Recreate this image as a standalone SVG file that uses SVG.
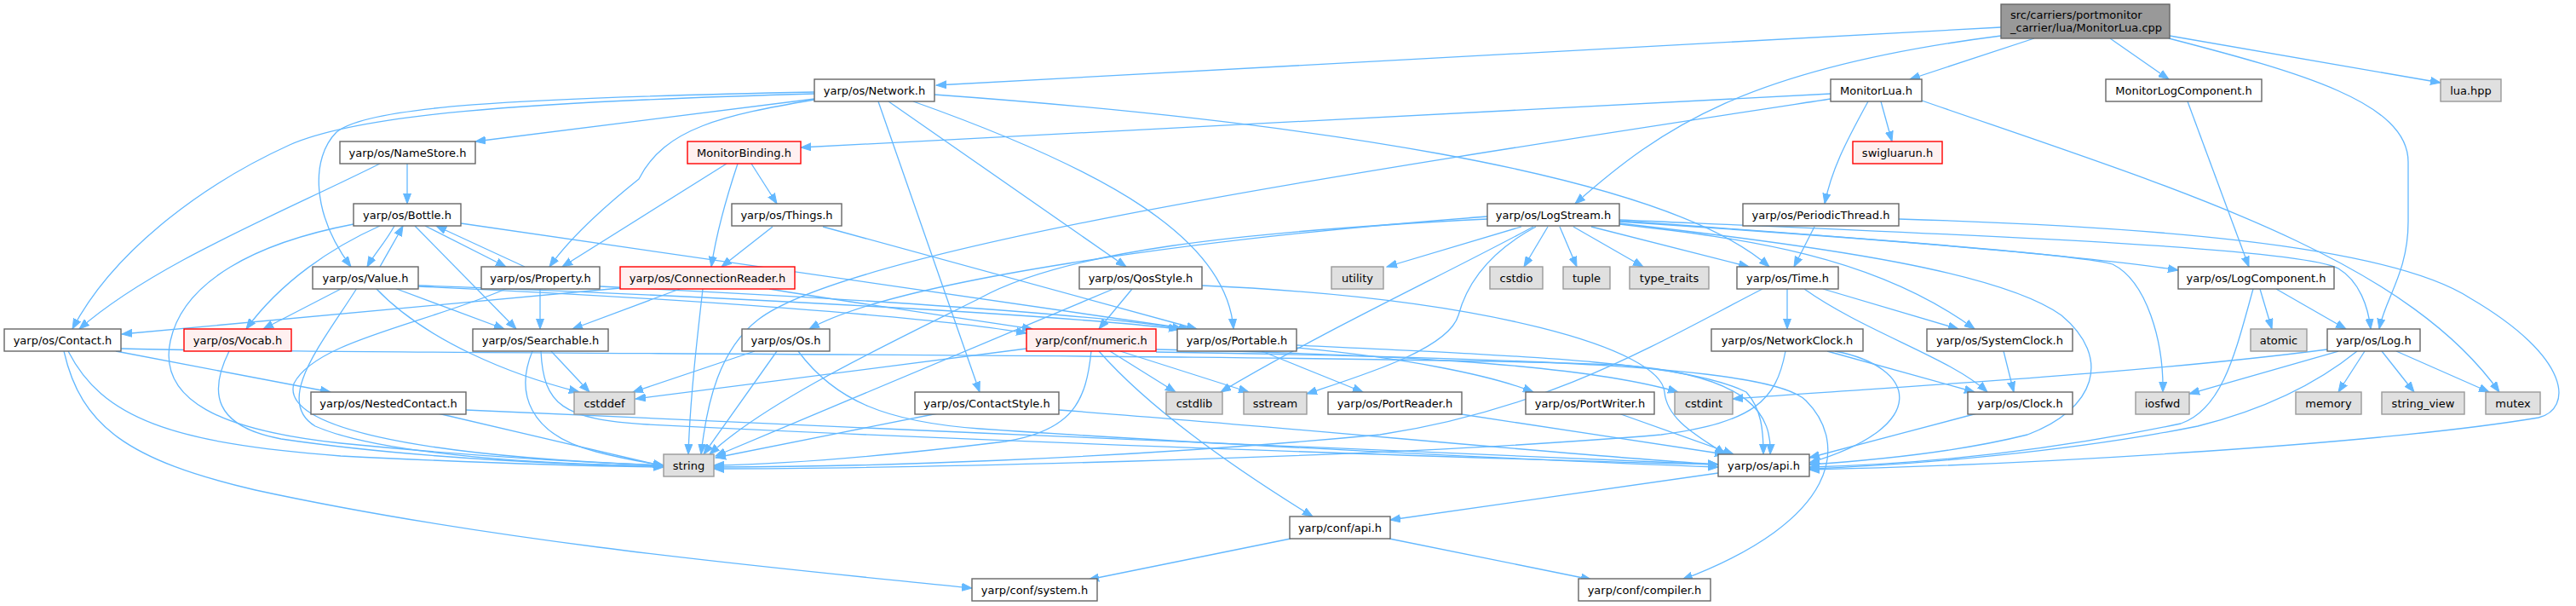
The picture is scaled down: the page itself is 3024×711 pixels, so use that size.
<svg xmlns="http://www.w3.org/2000/svg" width="3024" height="711" viewBox="0 0 3024 711">
<style>
.e{fill:none;stroke:#63b8ff;stroke-width:1.3;marker-end:url(#a)}
.bw rect{fill:#ffffff;stroke:#666666;stroke-width:1.4}
.bg rect{fill:#e0e0e0;stroke:#999999;stroke-width:1.4}
.br rect{fill:#fff0f0;stroke:#ff0000;stroke-width:1.4}
.bk rect{fill:#999999;stroke:#666666;stroke-width:1.4}
text{font-family:"DejaVu Sans","Liberation Sans",sans-serif;font-size:13px;fill:#000000;text-anchor:middle}
.l{text-anchor:start}
</style>
<defs>
<marker id="a" markerUnits="userSpaceOnUse" markerWidth="13" markerHeight="10" refX="12" refY="5" orient="auto">
<path d="M0,0.5 L12,5 L0,9.5 z" fill="#63b8ff" stroke="#63b8ff" stroke-width="1"/>
</marker>
</defs>
<rect x="0" y="0" width="3024" height="711" fill="#ffffff"/>
<g id="edges">
<path class="e" d="M2349,32 L1099,100"/>
<path class="e" d="M2349,42 C2050,80 1950,150 1849,239"/>
<path class="e" d="M2388,45 L2242,93"/>
<path class="e" d="M2477,45 L2546,93"/>
<path class="e" d="M2547,42 L2865,97"/>
<path class="e" d="M2546,45 C2700,85 2827,120 2827,190 L2827,260 C2827,320 2800,350 2793,386"/>
<path class="e" d="M2149,110 L940,173"/>
<path class="e" d="M2149,116 C1600,200 1000,290 890,375 C845,410 830,470 823,533"/>
<path class="e" d="M2208,119 L2221,166"/>
<path class="e" d="M2193,119 C2165,170 2150,200 2142,239"/>
<path class="e" d="M2256,118 C2550,220 2820,300 2934,460"/>
<path class="e" d="M956,116 L558,166"/>
<path class="e" d="M956,108 C600,115 430,125 395,155 C365,185 365,250 412,313"/>
<path class="e" d="M956,110 C600,120 420,135 340,170 C230,220 130,300 85,386"/>
<path class="e" d="M956,117 C850,135 780,150 750,210 C700,250 665,285 645,313"/>
<path class="e" d="M1031,119 L1150,460"/>
<path class="e" d="M1043,119 L1322,313"/>
<path class="e" d="M1072,119 C1300,200 1440,280 1448,386"/>
<path class="e" d="M1097,111 C1500,140 1950,200 2077,313"/>
<path class="e" d="M478,192 L478,239"/>
<path class="e" d="M446,192 C330,250 180,310 93,386"/>
<path class="e" d="M463,265 C452,285 440,297 431,313"/>
<path class="e" d="M499,265 L594,313"/>
<path class="e" d="M541,262 L1396,386"/>
<path class="e" d="M415,263 C300,285 215,330 200,400 C185,470 260,505 400,520 C550,535 700,543 779,546"/>
<path class="e" d="M446,265 C390,290 330,330 289,386"/>
<path class="e" d="M487,265 L606,386"/>
<path class="e" d="M446,313 C456,295 465,280 473,265"/>
<path class="e" d="M402,338 L309,386"/>
<path class="e" d="M419,338 C380,400 320,470 370,500 C450,535 650,545 779,547"/>
<path class="e" d="M441,338 C500,400 600,440 680,460"/>
<path class="e" d="M463,338 L592,386"/>
<path class="e" d="M491,335 C700,342 1200,365 1384,386"/>
<path class="e" d="M491,336 C800,350 1100,372 1205,391"/>
<path class="e" d="M616,313 L512,265"/>
<path class="e" d="M634,338 L634,386"/>
<path class="e" d="M596,338 C500,380 370,400 345,450 C330,500 480,535 779,546"/>
<path class="e" d="M704,336 C1000,350 1300,370 1388,386"/>
<path class="e" d="M728,338 L143,392"/>
<path class="e" d="M798,339 L672,386"/>
<path class="e" d="M825,339 C818,400 810,470 808,533"/>
<path class="e" d="M903,339 C1000,355 1120,372 1212,386"/>
<path class="e" d="M907,266 L847,313"/>
<path class="e" d="M966,266 L1405,386"/>
<path class="e" d="M853,192 L660,313"/>
<path class="e" d="M866,192 C850,240 840,280 835,313"/>
<path class="e" d="M882,192 L912,239"/>
<path class="e" d="M1329,339 L1290,386"/>
<path class="e" d="M1307,339 L840,535"/>
<path class="e" d="M1411,335 C1750,350 1950,410 1954,460 C1957,495 2000,515 2025,533"/>
<path class="e" d="M886,412 L743,460"/>
<path class="e" d="M912,412 L826,533"/>
<path class="e" d="M937,412 C980,470 1040,495 1150,503 C1400,520 1800,540 2017,548"/>
<path class="e" d="M1205,409 L746,468"/>
<path class="e" d="M1281,412 C1275,470 1260,505 1180,518 C1000,540 900,545 838,546"/>
<path class="e" d="M1290,412 C1350,480 1450,550 1541,606"/>
<path class="e" d="M1303,412 L1380,460"/>
<path class="e" d="M1315,412 L1466,460"/>
<path class="e" d="M1357,410 C1600,415 1850,425 1970,460"/>
<path class="e" d="M1357,413 C1800,420 2080,430 2120,470 C2170,520 2160,610 1975,680"/>
<path class="e" d="M1481,412 L1600,460"/>
<path class="e" d="M1522,408 C1650,420 1750,440 1800,460"/>
<path class="e" d="M1522,405 C1800,418 1980,425 2050,460 C2068,480 2070,505 2070,533"/>
<path class="e" d="M142,409 C400,416 1500,414 1900,428 C2060,440 2080,490 2078,533"/>
<path class="e" d="M136,412 L388,460"/>
<path class="e" d="M75,412 C95,500 150,540 300,575 C600,640 950,670 1141,690"/>
<path class="e" d="M80,412 C120,490 200,520 400,535 C600,545 700,547 779,548"/>
<path class="e" d="M269,412 C245,460 250,500 330,515 C500,540 700,546 779,547"/>
<path class="e" d="M647,412 L692,460"/>
<path class="e" d="M625,412 C605,460 620,510 700,530 C730,538 760,543 779,546"/>
<path class="e" d="M635,412 C638,475 660,492 760,498 C1200,520 1800,540 2017,545"/>
<path class="e" d="M514,485 L779,547"/>
<path class="e" d="M547,481 C1000,500 1700,535 2017,545"/>
<path class="e" d="M1101,485 L840,537"/>
<path class="e" d="M1243,481 C1500,500 1850,535 2017,545"/>
<path class="e" d="M1786,266 L1628,313"/>
<path class="e" d="M1817,266 L1789,313"/>
<path class="e" d="M1831,266 L1851,313"/>
<path class="e" d="M1847,266 L1929,313"/>
<path class="e" d="M1868,266 L2053,313"/>
<path class="e" d="M1746,254 C1400,280 1050,330 950,386"/>
<path class="e" d="M1746,257 C1450,272 1250,295 1150,350 C1050,400 900,470 833,533"/>
<path class="e" d="M1800,266 C1700,320 1550,390 1433,460"/>
<path class="e" d="M1803,266 C1740,300 1720,340 1712,370 C1700,410 1600,440 1534,462"/>
<path class="e" d="M1901,263 C2050,280 2200,300 2318,386"/>
<path class="e" d="M1901,259 C2200,280 2450,300 2557,317"/>
<path class="e" d="M1901,258 C2300,275 2700,290 2745,315 C2770,330 2780,360 2783,386"/>
<path class="e" d="M1901,260 C2200,280 2450,300 2480,310 C2520,330 2540,400 2539,460"/>
<path class="e" d="M1901,262 C2150,290 2350,320 2420,370 C2480,420 2460,480 2380,510 C2300,530 2200,540 2124,545"/>
<path class="e" d="M2672,339 L2754,386"/>
<path class="e" d="M2653,339 L2667,386"/>
<path class="e" d="M2645,339 C2625,410 2610,480 2560,497 C2400,530 2250,545 2124,548"/>
<path class="e" d="M2732,410 C2500,440 2200,455 2034,468"/>
<path class="e" d="M2745,412 L2570,462"/>
<path class="e" d="M2767,412 C2720,450 2660,480 2580,500 C2430,530 2250,545 2124,550"/>
<path class="e" d="M2776,412 L2745,460"/>
<path class="e" d="M2796,412 L2834,460"/>
<path class="e" d="M2813,412 L2922,460"/>
<path class="e" d="M2568,119 L2640,313"/>
<path class="e" d="M2130,266 L2106,313"/>
<path class="e" d="M2229,257 C2500,265 2800,285 2900,350 C3020,420 3020,480 2980,490 C2800,520 2400,545 2124,551"/>
<path class="e" d="M2098,339 L2098,386"/>
<path class="e" d="M2069,339 C1950,400 1820,480 1620,510 C1300,540 1000,548 838,548"/>
<path class="e" d="M2118,339 C2190,390 2290,420 2333,460"/>
<path class="e" d="M2140,339 L2299,386"/>
<path class="e" d="M2096,412 C2085,470 2060,495 1950,510 C1600,540 1000,550 838,550"/>
<path class="e" d="M2145,412 L2318,460"/>
<path class="e" d="M2154,412 C2250,430 2270,500 2124,543"/>
<path class="e" d="M2352,412 L2364,460"/>
<path class="e" d="M2321,485 L2124,537"/>
<path class="e" d="M1709,485 L2025,533"/>
<path class="e" d="M1900,485 L2035,533"/>
<path class="e" d="M2017,555 L1632,610"/>
<path class="e" d="M1515,632 L1278,680"/>
<path class="e" d="M1631,632 L1868,680"/>
</g>
<g id="n_root" class="bk"><rect x="2349" y="5" width="198" height="40"/><text class="l" x="2360" y="22">src/carriers/portmonitor</text><text class="l" x="2360" y="37">_carrier/lua/MonitorLua.cpp</text></g>
<g id="n_network" class="bw"><rect x="956" y="93" width="141" height="26"/><text x="1026.5" y="110.5">yarp/os/Network.h</text></g>
<g id="n_monitorlua" class="bw"><rect x="2149" y="93" width="107" height="26"/><text x="2202.5" y="110.5">MonitorLua.h</text></g>
<g id="n_monitorlogcomponent" class="bw"><rect x="2472" y="93" width="183" height="26"/><text x="2563.5" y="110.5">MonitorLogComponent.h</text></g>
<g id="n_luahpp" class="bg"><rect x="2865" y="93" width="71" height="26"/><text x="2900.5" y="110.5">lua.hpp</text></g>
<g id="n_namestore" class="bw"><rect x="399" y="166" width="159" height="26"/><text x="478.5" y="183.5">yarp/os/NameStore.h</text></g>
<g id="n_monitorbinding" class="br"><rect x="807" y="166" width="133" height="26"/><text x="873.5" y="183.5">MonitorBinding.h</text></g>
<g id="n_swigluarun" class="br"><rect x="2175" y="166" width="105" height="26"/><text x="2227.5" y="183.5">swigluarun.h</text></g>
<g id="n_bottle" class="bw"><rect x="415" y="239" width="126" height="26"/><text x="478" y="256.5">yarp/os/Bottle.h</text></g>
<g id="n_things" class="bw"><rect x="859" y="239" width="129" height="26"/><text x="923.5" y="256.5">yarp/os/Things.h</text></g>
<g id="n_logstream" class="bw"><rect x="1746" y="239" width="155" height="26"/><text x="1823.5" y="256.5">yarp/os/LogStream.h</text></g>
<g id="n_periodicthread" class="bw"><rect x="2046" y="239" width="183" height="26"/><text x="2137.5" y="256.5">yarp/os/PeriodicThread.h</text></g>
<g id="n_value" class="bw"><rect x="367" y="313" width="124" height="26"/><text x="429" y="330.5">yarp/os/Value.h</text></g>
<g id="n_property" class="bw"><rect x="565" y="313" width="139" height="26"/><text x="634.5" y="330.5">yarp/os/Property.h</text></g>
<g id="n_connectionreader" class="br"><rect x="728" y="313" width="205" height="26"/><text x="830.5" y="330.5">yarp/os/ConnectionReader.h</text></g>
<g id="n_qosstyle" class="bw"><rect x="1267" y="313" width="144" height="26"/><text x="1339" y="330.5">yarp/os/QosStyle.h</text></g>
<g id="n_utility" class="bg"><rect x="1563" y="313" width="61" height="26"/><text x="1593.5" y="330.5">utility</text></g>
<g id="n_cstdio" class="bg"><rect x="1749" y="313" width="62" height="26"/><text x="1780" y="330.5">cstdio</text></g>
<g id="n_tuple" class="bg"><rect x="1835" y="313" width="55" height="26"/><text x="1862.5" y="330.5">tuple</text></g>
<g id="n_typetraits" class="bg"><rect x="1913" y="313" width="93" height="26"/><text x="1959.5" y="330.5">type_traits</text></g>
<g id="n_time" class="bw"><rect x="2039" y="313" width="119" height="26"/><text x="2098.5" y="330.5">yarp/os/Time.h</text></g>
<g id="n_logcomponent" class="bw"><rect x="2557" y="313" width="183" height="26"/><text x="2648.5" y="330.5">yarp/os/LogComponent.h</text></g>
<g id="n_contact" class="bw"><rect x="5" y="386" width="137" height="26"/><text x="73.5" y="403.5">yarp/os/Contact.h</text></g>
<g id="n_vocab" class="br"><rect x="216" y="386" width="126" height="26"/><text x="279" y="403.5">yarp/os/Vocab.h</text></g>
<g id="n_searchable" class="bw"><rect x="555" y="386" width="159" height="26"/><text x="634.5" y="403.5">yarp/os/Searchable.h</text></g>
<g id="n_os" class="bw"><rect x="871" y="386" width="103" height="26"/><text x="922.5" y="403.5">yarp/os/Os.h</text></g>
<g id="n_numeric" class="br"><rect x="1205" y="386" width="152" height="26"/><text x="1281" y="403.5">yarp/conf/numeric.h</text></g>
<g id="n_portable" class="bw"><rect x="1382" y="386" width="140" height="26"/><text x="1452" y="403.5">yarp/os/Portable.h</text></g>
<g id="n_networkclock" class="bw"><rect x="2009" y="386" width="178" height="26"/><text x="2098" y="403.5">yarp/os/NetworkClock.h</text></g>
<g id="n_systemclock" class="bw"><rect x="2262" y="386" width="171" height="26"/><text x="2347.5" y="403.5">yarp/os/SystemClock.h</text></g>
<g id="n_atomic" class="bg"><rect x="2642" y="386" width="66" height="26"/><text x="2675" y="403.5">atomic</text></g>
<g id="n_log" class="bw"><rect x="2732" y="386" width="109" height="26"/><text x="2786.5" y="403.5">yarp/os/Log.h</text></g>
<g id="n_nestedcontact" class="bw"><rect x="365" y="460" width="182" height="26"/><text x="456" y="477.5">yarp/os/NestedContact.h</text></g>
<g id="n_cstddef" class="bg"><rect x="674" y="460" width="71" height="26"/><text x="709.5" y="477.5">cstddef</text></g>
<g id="n_contactstyle" class="bw"><rect x="1074" y="460" width="169" height="26"/><text x="1158.5" y="477.5">yarp/os/ContactStyle.h</text></g>
<g id="n_cstdlib" class="bg"><rect x="1369" y="460" width="66" height="26"/><text x="1402" y="477.5">cstdlib</text></g>
<g id="n_sstream" class="bg"><rect x="1460" y="460" width="74" height="26"/><text x="1497" y="477.5">sstream</text></g>
<g id="n_portreader" class="bw"><rect x="1559" y="460" width="157" height="26"/><text x="1637.5" y="477.5">yarp/os/PortReader.h</text></g>
<g id="n_portwriter" class="bw"><rect x="1791" y="460" width="151" height="26"/><text x="1866.5" y="477.5">yarp/os/PortWriter.h</text></g>
<g id="n_cstdint" class="bg"><rect x="1966" y="460" width="68" height="26"/><text x="2000" y="477.5">cstdint</text></g>
<g id="n_clock" class="bw"><rect x="2310" y="460" width="123" height="26"/><text x="2371.5" y="477.5">yarp/os/Clock.h</text></g>
<g id="n_iosfwd" class="bg"><rect x="2507" y="460" width="63" height="26"/><text x="2538.5" y="477.5">iosfwd</text></g>
<g id="n_memory" class="bg"><rect x="2695" y="460" width="77" height="26"/><text x="2733.5" y="477.5">memory</text></g>
<g id="n_stringview" class="bg"><rect x="2796" y="460" width="97" height="26"/><text x="2844.5" y="477.5">string_view</text></g>
<g id="n_mutex" class="bg"><rect x="2918" y="460" width="64" height="26"/><text x="2950" y="477.5">mutex</text></g>
<g id="n_string" class="bg"><rect x="779" y="533" width="59" height="26"/><text x="808.5" y="550.5">string</text></g>
<g id="n_osapi" class="bw"><rect x="2017" y="533" width="107" height="26"/><text x="2070.5" y="550.5">yarp/os/api.h</text></g>
<g id="n_confapi" class="bw"><rect x="1514" y="606" width="118" height="26"/><text x="1573" y="623.5">yarp/conf/api.h</text></g>
<g id="n_system" class="bw"><rect x="1141" y="679" width="147" height="26"/><text x="1214.5" y="696.5">yarp/conf/system.h</text></g>
<g id="n_compiler" class="bw"><rect x="1853" y="679" width="155" height="26"/><text x="1930.5" y="696.5">yarp/conf/compiler.h</text></g>
</svg>
